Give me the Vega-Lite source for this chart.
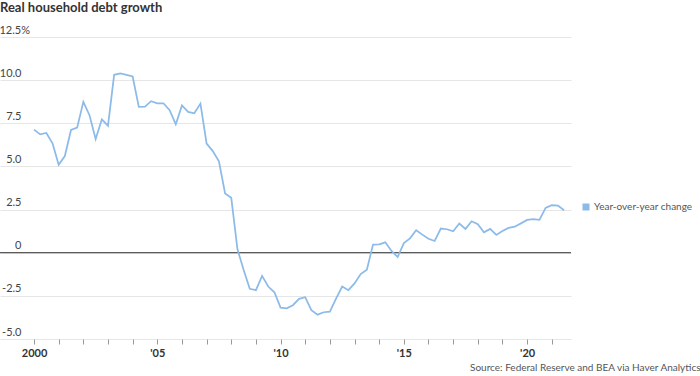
{
  "$schema": "https://vega.github.io/schema/vega-lite/v6.json",
  "autosize": "none",
  "width": 571,
  "height": 302,
  "padding": {"left": 0, "top": 37, "right": 129, "bottom": 37},
  "background": "white",
  "config": {
    "view": {"stroke": null},
    "font": "Lato"
  },
  "title": {
    "text": "Real household debt growth",
    "anchor": "start",
    "frame": "group",
    "font": "Lato",
    "fontSize": 13,
    "fontWeight": "bold",
    "color": "#333333",
    "offset": 9
  },
  "data": {
    "values": [
      {"t": 2000.0, "value": 7.13}, {"t": 2000.25, "value": 6.86}, {"t": 2000.5, "value": 6.94}, {"t": 2000.75, "value": 6.34},
      {"t": 2001.0, "value": 5.10}, {"t": 2001.25, "value": 5.60}, {"t": 2001.5, "value": 7.11}, {"t": 2001.75, "value": 7.25},
      {"t": 2002.0, "value": 8.74}, {"t": 2002.25, "value": 7.97}, {"t": 2002.5, "value": 6.59}, {"t": 2002.75, "value": 7.73},
      {"t": 2003.0, "value": 7.36}, {"t": 2003.25, "value": 10.31}, {"t": 2003.5, "value": 10.39}, {"t": 2003.75, "value": 10.31},
      {"t": 2004.0, "value": 10.21}, {"t": 2004.25, "value": 8.45}, {"t": 2004.5, "value": 8.47}, {"t": 2004.75, "value": 8.78},
      {"t": 2005.0, "value": 8.66}, {"t": 2005.25, "value": 8.66}, {"t": 2005.5, "value": 8.26}, {"t": 2005.75, "value": 7.44},
      {"t": 2006.0, "value": 8.53}, {"t": 2006.25, "value": 8.16}, {"t": 2006.5, "value": 8.08}, {"t": 2006.75, "value": 8.64},
      {"t": 2007.0, "value": 6.32}, {"t": 2007.25, "value": 5.89}, {"t": 2007.5, "value": 5.29}, {"t": 2007.75, "value": 3.43},
      {"t": 2008.0, "value": 3.18}, {"t": 2008.25, "value": 0.21}, {"t": 2008.5, "value": -0.99}, {"t": 2008.75, "value": -2.09},
      {"t": 2009.0, "value": -2.17}, {"t": 2009.25, "value": -1.34}, {"t": 2009.5, "value": -1.96}, {"t": 2009.75, "value": -2.29},
      {"t": 2010.0, "value": -3.18}, {"t": 2010.25, "value": -3.22}, {"t": 2010.5, "value": -3.04}, {"t": 2010.75, "value": -2.67},
      {"t": 2011.0, "value": -2.58}, {"t": 2011.25, "value": -3.33}, {"t": 2011.5, "value": -3.59}, {"t": 2011.75, "value": -3.45},
      {"t": 2012.0, "value": -3.41}, {"t": 2012.25, "value": -2.66}, {"t": 2012.5, "value": -1.96}, {"t": 2012.75, "value": -2.17},
      {"t": 2013.0, "value": -1.78}, {"t": 2013.25, "value": -1.24}, {"t": 2013.5, "value": -0.99}, {"t": 2013.75, "value": 0.47},
      {"t": 2014.0, "value": 0.49}, {"t": 2014.25, "value": 0.60}, {"t": 2014.5, "value": 0.10}, {"t": 2014.75, "value": -0.25},
      {"t": 2015.0, "value": 0.56}, {"t": 2015.25, "value": 0.83}, {"t": 2015.5, "value": 1.30}, {"t": 2015.75, "value": 1.05},
      {"t": 2016.0, "value": 0.81}, {"t": 2016.25, "value": 0.68}, {"t": 2016.5, "value": 1.40}, {"t": 2016.75, "value": 1.36},
      {"t": 2017.0, "value": 1.24}, {"t": 2017.25, "value": 1.69}, {"t": 2017.5, "value": 1.38}, {"t": 2017.75, "value": 1.82},
      {"t": 2018.0, "value": 1.65}, {"t": 2018.25, "value": 1.18}, {"t": 2018.5, "value": 1.38}, {"t": 2018.75, "value": 1.03},
      {"t": 2019.0, "value": 1.26}, {"t": 2019.25, "value": 1.44}, {"t": 2019.5, "value": 1.51}, {"t": 2019.75, "value": 1.70},
      {"t": 2020.0, "value": 1.90}, {"t": 2020.25, "value": 1.94}, {"t": 2020.5, "value": 1.90}, {"t": 2020.75, "value": 2.60},
      {"t": 2021.0, "value": 2.75}, {"t": 2021.25, "value": 2.73}, {"t": 2021.5, "value": 2.46}
    ]
  },
  "layer": [
    {
      "data": {"values": [{"zero": 0}]},
      "mark": {"type": "rule", "color": "#333333", "strokeWidth": 1},
      "encoding": {
        "y": {"field": "zero", "type": "quantitative", "scale": {"domain": [-5, 12.5]}}
      }
    },
    {
      "transform": [{"calculate": "'Year-over-year change'", "as": "series"}],
      "mark": {"type": "line", "strokeWidth": 1.75, "interpolate": "linear"},
      "encoding": {
        "x": {
          "field": "t",
          "type": "quantitative",
          "scale": {"domain": [1998.62, 2021.78], "nice": false, "zero": false},
          "axis": {
            "values": [2000, 2001, 2002, 2003, 2004, 2005, 2006, 2007, 2008, 2009, 2010, 2011, 2012, 2013, 2014, 2015, 2016, 2017, 2018, 2019, 2020, 2021],
            "labelExpr": "datum.value == 2000 ? '2000' : (datum.value % 5 == 0 ? \"'\" + slice(format(datum.value, 'd'), 2) : '')",
            "domain": false,
            "grid": false,
            "ticks": true,
            "tickSize": 5,
            "tickColor": "#999999",
            "tickWidth": 1,
            "labelFont": "Lato",
            "labelFontSize": 11,
            "labelFontWeight": "bold",
            "labelColor": "#333333",
            "labelPadding": 3,
            "labelOverlap": false,
            "labelFlush": false,
            "title": "Source: Federal Reserve and BEA via Haver Analytics",
            "titleFont": "Lato",
            "titleFontSize": 10,
            "titleFontWeight": "normal",
            "titleColor": "#555555",
            "titleAnchor": "end",
            "titleAlign": "right",
            "titleBaseline": "alphabetic",
            "titleX": 700,
            "titleY": 31
          }
        },
        "y": {
          "field": "value",
          "type": "quantitative",
          "scale": {"domain": [-5, 12.5], "nice": false, "zero": false},
          "axis": {
            "values": [-5, -2.5, 0, 2.5, 5, 7.5, 10, 12.5],
            "labelExpr": "datum.value == 12.5 ? '12.5%' : (datum.value == 0 ? '0' : (datum.value < 0 ? '-' + format(-datum.value, '.1f') : format(datum.value, '.1f')))",
            "domain": false,
            "ticks": false,
            "tickSize": 0,
            "grid": true,
            "gridColor": "#e6e6e6",
            "gridWidth": 1,
            "labelAlign": "right",
            "labelBaseline": "alphabetic",
            "labelOffset": -4,
            "labelPadding": {"condition": {"test": "datum.value == 12.5", "value": -29.5}, "value": -21},
            "labelFont": "Lato",
            "labelFontSize": 11,
            "labelColor": "#444444",
            "title": null
          }
        },
        "color": {
          "field": "series",
          "type": "nominal",
          "scale": {"range": ["#8cbbe9"]},
          "legend": {
            "orient": "none",
            "legendX": 581,
            "legendY": 165,
            "title": null,
            "symbolType": "square",
            "symbolSize": 49,
            "symbolStrokeWidth": 0,
            "symbolFillColor": "#8cbbe9",
            "labelFont": "Lato",
            "labelFontSize": 10,
            "labelColor": "#555555",
            "labelOffset": 3,
            "padding": 0
          }
        }
      }
    }
  ]
}
